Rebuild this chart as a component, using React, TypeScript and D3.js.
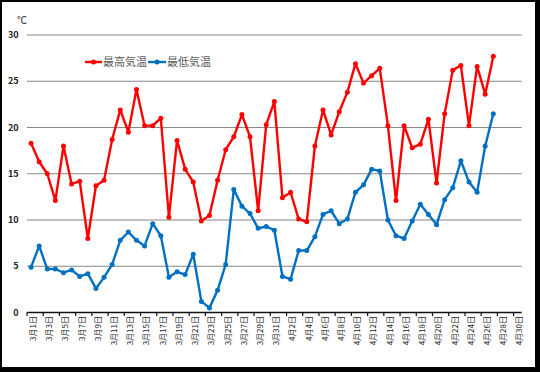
import React from 'react'
import * as d3 from 'd3'

// 3月1日 〜 4月30日
const dates = [
  '3月1日','3月2日','3月3日','3月4日','3月5日','3月6日','3月7日','3月8日','3月9日','3月10日',
  '3月11日','3月12日','3月13日','3月14日','3月15日','3月16日','3月17日','3月18日','3月19日','3月20日',
  '3月21日','3月22日','3月23日','3月24日','3月25日','3月26日','3月27日','3月28日','3月29日','3月30日','3月31日',
  '4月1日','4月2日','4月3日','4月4日','4月5日','4月6日','4月7日','4月8日','4月9日','4月10日',
  '4月11日','4月12日','4月13日','4月14日','4月15日','4月16日','4月17日','4月18日','4月19日','4月20日',
  '4月21日','4月22日','4月23日','4月24日','4月25日','4月26日','4月27日','4月28日','4月29日','4月30日',
]

const maxTemp = [
  18.3, 16.3, 15.0, 12.1, 18.0, 13.9, 14.2, 8.0, 13.7, 14.3,
  18.7, 21.9, 19.5, 24.1, 20.2, 20.2, 21.0, 10.3, 18.6, 15.5,
  14.1, 9.9, 10.5, 14.3, 17.6, 19.0, 21.4, 19.0, 11.0, 20.3, 22.8,
  12.4, 13.0, 10.1, 9.8, 18.0, 21.9, 19.2, 21.7, 23.8, 26.9,
  24.8, 25.6, 26.4, 20.2, 12.1, 20.2, 17.8, 18.2, 20.9, 14.0,
  21.5, 26.2, 26.7, 20.2, 26.6, 23.6, 27.7,
]

const minTemp = [
  4.9, 7.2, 4.7, 4.7, 4.3, 4.6, 3.9, 4.2, 2.6, 3.8,
  5.2, 7.8, 8.7, 7.8, 7.2, 9.6, 8.3, 3.8, 4.4, 4.1,
  6.3, 1.2, 0.5, 2.4, 5.2, 13.3, 11.5, 10.7, 9.1, 9.3, 8.9,
  3.9, 3.6, 6.7, 6.7, 8.2, 10.6, 11.0, 9.6, 10.1, 13.0,
  13.8, 15.5, 15.3, 10.0, 8.3, 8.0, 9.9, 11.7, 10.6, 9.5,
  12.2, 13.5, 16.4, 14.1, 13.0, 18.0, 21.5,
]

const yTicks = [0, 5, 10, 15, 20, 25, 30]

const series = [
  { name: '最高気温', values: maxTemp, color: '#ff0000' },
  { name: '最低気温', values: minTemp, color: '#0070c0' },
]

const W = 540
const H = 372
const font = '"Noto Sans CJK JP", "Noto Sans", sans-serif'

export default function App() {
  const x = d3.scaleBand<string>().domain(dates).range([27, 521.7]).padding(0)
  const y = d3.scaleLinear().domain([0, 30]).range([312.5, 35])
  const cx = (i: number) => (x(dates[i]) as number) + x.bandwidth() / 2

  const line = d3.line<number>()
    .x((d, i) => cx(i))
    .y(d => y(d))

  const tickDates = dates.filter((d, i) => i % 2 === 0)

  return (
    <svg width={W} height={H} style={{ position: 'absolute', left: 0, top: 0 }} fontFamily={font}>
      {/* frame */}
      <rect x={0} y={0} width={W} height={H} fill="#000" />
      <rect x={2} y={2} width={533} height={365} fill="#fff" />

      {/* grid */}
      {yTicks.filter(t => t > 0).map(t => (
        <line key={t} x1={27} x2={521.7} y1={y(t)} y2={y(t)} stroke="#868686" strokeWidth={1.2} />
      ))}
      {yTicks.map(t => (
        <text key={'l' + t} x={18.5} y={y(t)} dy="0.35em" textAnchor="end" fontSize={9}
          fontWeight="bold" fill="#222">{t}</text>
      ))}
      <text x={17} y={20} dy="0.35em" fontSize={10} fill="#222">℃</text>

      {/* x axis */}
      <line x1={27} x2={521.7} y1={y(0)} y2={y(0)} stroke="#111" strokeWidth={1.5} />
      {tickDates.map(d => (
        <line key={'t' + d} x1={x(d)} x2={x(d)} y1={y(0)} y2={y(0) + 3.5} stroke="#111" strokeWidth={1.2} />
      ))}
      {tickDates.map(d => {
        const px = (x(d) as number) + x.bandwidth() / 2 + 2
        return (
          <text key={'x' + d} transform={`translate(${px},316) rotate(-90)`} dy="0.35em"
            textAnchor="end" fontSize={8} fill="#222">{d}</text>
        )
      })}

      {/* series */}
      {series.map(s => (
        <g key={s.name}>
          <path d={line(s.values) || ''} fill="none" stroke={s.color} strokeWidth={2.4} strokeLinejoin="round" />
          {s.values.map((v, i) => (
            <circle key={i} cx={cx(i)} cy={y(v)} r={2.5} fill={s.color} />
          ))}
        </g>
      ))}

      {/* legend */}
      <g>
        <line x1={85} x2={102} y1={62} y2={62} stroke={series[0].color} strokeWidth={2.4} />
        <circle cx={93.5} cy={62} r={2.5} fill={series[0].color} />
        <text x={103} y={62} dy="0.35em" fontSize={11} fill="#595959">{series[0].name}</text>
        <line x1={148} x2={166} y1={62} y2={62} stroke={series[1].color} strokeWidth={2.4} />
        <circle cx={157} cy={62} r={2.5} fill={series[1].color} />
        <text x={167} y={62} dy="0.35em" fontSize={11} fill="#595959">{series[1].name}</text>
      </g>
    </svg>
  )
}
